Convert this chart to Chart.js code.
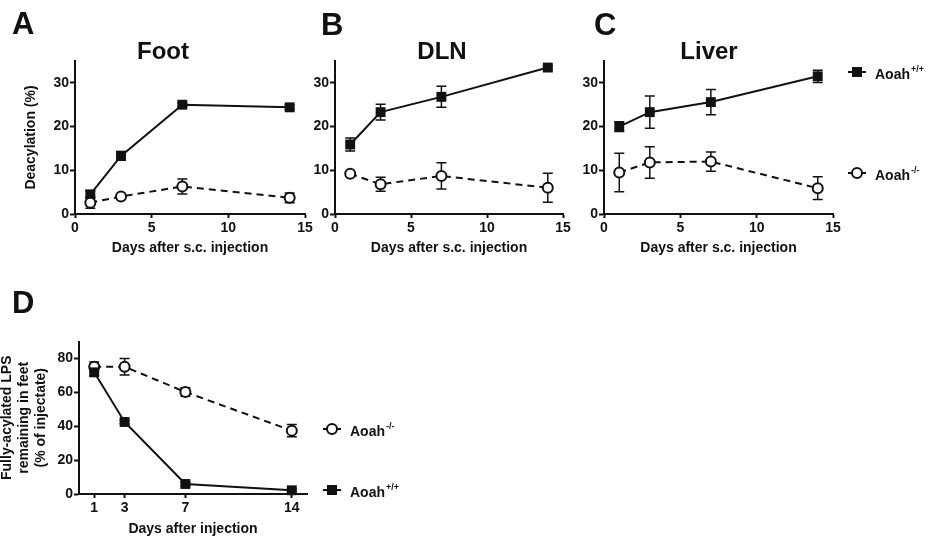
<!DOCTYPE html>
<html>
<head>
<meta charset="utf-8">
<script src="https://cdn.jsdelivr.net/npm/chart.js@4.4.1/dist/chart.umd.min.js"></script>
<style>
  body { margin: 0; background: #fff; }
  #wrap { position: relative; width: 928px; height: 542px; font-family: "Liberation Sans", Arial, sans-serif; color: #111; }
  #wrap canvas { position: absolute; left: 0; top: 0; }
  .lbl { position: absolute; font-weight: bold; line-height: 1; white-space: nowrap; }
  .letter { font-size: 31px; }
  .ttl { font-size: 24px; transform: translateX(-50%); }
</style>
</head>
<body>
<div id="wrap">
  <canvas id="chartA" width="928" height="542"></canvas>
  <canvas id="chartB" width="928" height="542"></canvas>
  <canvas id="chartC" width="928" height="542"></canvas>
  <canvas id="chartD" width="928" height="542"></canvas>
  <div class="lbl letter" style="left:12px;top:8px">A</div>
  <div class="lbl letter" style="left:321px;top:9px">B</div>
  <div class="lbl letter" style="left:594px;top:9px">C</div>
  <div class="lbl letter" style="left:12px;top:287px">D</div>
  <div class="lbl ttl" style="left:163px;top:39px">Foot</div>
  <div class="lbl ttl" style="left:442px;top:39px">DLN</div>
  <div class="lbl ttl" style="left:709px;top:39px">Liver</div>
</div>
<script>
const FONT = '"Liberation Sans", Arial, sans-serif';
const INK = '#111';

// days sampled
const days = [1, 3, 7, 14];
const genotypes = ['+/+', '-/-'];

// A: foot deacylation (%)
const footWt = [4.5, 13.3, 25.0, 24.4];
const footWtErr = [0.8, 1.0, 0.4, 0.5];
const footKo = [2.6, 4.0, 6.3, 3.7];
const footKoErr = [1.3, 0.4, 1.7, 1.1];

// B: DLN deacylation (%)
const dlnWt = [15.9, 23.3, 26.8, 33.5];
const dlnWtErr = [1.5, 1.8, 2.4, 0.4];
const dlnKo = [9.2, 6.8, 8.7, 6.0];
const dlnKoErr = [0.4, 1.6, 3.0, 3.3];

// C: liver deacylation (%)
const liverWt = [20.0, 23.3, 25.6, 31.5];
const liverWtErr = [1.1, 3.7, 2.9, 1.4];
const liverKo = [9.5, 11.8, 12.0, 5.9];
const liverKoErr = [4.4, 3.6, 2.2, 2.6];

// D: fully-acylated LPS remaining in feet (% of injectate)
const feetWt = [71.8, 42.5, 5.9, 2.2];
const feetWtErr = [2.0, 1.0, 1.0, 0.8];
const feetKo = [75.1, 75.1, 60.2, 37.4];
const feetKoErr = [2.8, 4.9, 2.5, 3.6];

// tick labels
const xTicksTop = [0, 5, 10, 15];
const yTicksTop = [0, 10, 20, 30];
const xTicksD = [1, 3, 7, 14];
const yTicksD = [0, 20, 40, 60, 80];

const errorBars = {
    id: 'errorBars',
    beforeDatasetsDraw(chart) {
        const { ctx, scales: { x, y } } = chart;
        ctx.save();
        ctx.strokeStyle = INK;
        ctx.lineWidth = 1.5;
        chart.data.datasets.forEach(ds => {
            if (!ds.err) return;
            ds.data.forEach((p, i) => {
                const e = ds.err[i];
                const px = x.getPixelForValue(p.x);
                const top = y.getPixelForValue(p.y + e);
                const bot = y.getPixelForValue(p.y - e);
                ctx.beginPath();
                ctx.moveTo(px, top); ctx.lineTo(px, bot);
                ctx.moveTo(px - 5, top); ctx.lineTo(px + 5, top);
                ctx.moveTo(px - 5, bot); ctx.lineTo(px + 5, bot);
                ctx.stroke();
            });
        });
        ctx.restore();
    }
};

// legend drawn beside the plot, one entry per dataset
const sideLegend = {
    id: 'sideLegend',
    afterDraw(chart, args, opts) {
        if (!opts.items) return;
        const ctx = chart.ctx;
        ctx.save();
        opts.items.forEach(it => {
            const ds = chart.data.datasets[it.ds];
            ctx.strokeStyle = INK;
            ctx.lineWidth = 2;
            ctx.beginPath();
            ctx.moveTo(it.x - 9, it.y); ctx.lineTo(it.x + 9, it.y);
            ctx.stroke();
            ctx.beginPath();
            if (ds.pointStyle === 'rect') {
                ctx.fillStyle = INK;
                ctx.fillRect(it.x - 5, it.y - 5, 10, 10);
            } else {
                ctx.fillStyle = '#fff';
                ctx.arc(it.x, it.y, 5, 0, Math.PI * 2);
                ctx.fill();
                ctx.stroke();
            }
            ctx.fillStyle = INK;
            ctx.textBaseline = 'alphabetic';
            ctx.textAlign = 'left';
            ctx.font = 'bold 14px ' + FONT;
            ctx.fillText('Aoah', it.x + 18, it.y + 7);
            const w = ctx.measureText('Aoah').width;
            ctx.font = 'bold 9px ' + FONT;
            ctx.fillText(ds.sup, it.x + 18 + w + 1, it.y + 0);
        });
        ctx.restore();
    }
};

function wtSet(vals, err) {
    return {
        label: 'Aoah' + genotypes[0], sup: genotypes[0],
        data: days.map((d, i) => ({ x: d, y: vals[i] })), err: err,
        borderColor: INK, borderWidth: 2, backgroundColor: INK,
        pointStyle: 'rect', pointRadius: 7, pointBorderWidth: 0,
        tension: 0, clip: false
    };
}

function koSet(vals, err) {
    return {
        label: 'Aoah' + genotypes[1], sup: genotypes[1],
        data: days.map((d, i) => ({ x: d, y: vals[i] })), err: err,
        borderColor: INK, borderWidth: 2, borderDash: [7, 5],
        pointStyle: 'circle', pointRadius: 5, pointBorderWidth: 2,
        pointBackgroundColor: '#fff', pointBorderColor: INK,
        tension: 0, clip: false
    };
}

function makePanel(id, p) {
    const tickFont = { family: FONT, size: 14, weight: 'bold' };
    const titleFont = { family: FONT, size: 14, weight: 'bold', lineHeight: 1.2 };
    return new Chart(document.getElementById(id), {
        type: 'line',
        data: { datasets: p.datasets },
        options: {
            responsive: false,
            animation: false,
            events: [],
            layout: {
                padding: {
                    left: p.area.left - p.yW,
                    right: 928 - p.area.right,
                    top: p.area.top,
                    bottom: 542 - p.area.bottom - p.xH
                }
            },
            scales: {
                x: {
                    type: 'linear', min: 0, max: 15,
                    afterBuildTicks: s => { s.ticks = p.xTicks.map(v => ({ value: v })); },
                    afterFit: s => { s.height = p.xH; },
                    grid: { drawOnChartArea: false, tickLength: 4, tickWidth: 2, tickColor: INK },
                    border: { display: true, width: 2, color: INK },
                    ticks: { color: INK, font: tickFont, padding: 2, maxRotation: 0, autoSkip: false },
                    title: { display: true, text: 'Days after ' + p.xWord + 'injection', color: INK, font: titleFont, padding: 0 }
                },
                y: {
                    min: 0, max: p.yMax,
                    afterBuildTicks: s => { s.ticks = p.yTicks.map(v => ({ value: v })); },
                    afterFit: s => { s.width = p.yW; },
                    grid: { drawOnChartArea: false, tickLength: 5, tickWidth: 2, tickColor: INK },
                    border: { display: true, width: 2, color: INK },
                    ticks: { color: INK, font: tickFont, padding: 1 },
                    title: { display: !!p.yTitle, text: p.yTitle, color: INK, font: titleFont, padding: 0 }
                }
            },
            plugins: {
                legend: { display: false },
                tooltip: { enabled: false },
                sideLegend: { items: p.legend || null }
            }
        },
        plugins: [errorBars, sideLegend]
    });
}

makePanel('chartA', {
    area: { left: 75, right: 305, top: 61, bottom: 214 }, yW: 52, xH: 43,
    xTicks: xTicksTop, yTicks: yTicksTop, yMax: 35, xWord: 's.c. ',
    yTitle: 'Deacylation (%)',
    datasets: [koSet(footKo, footKoErr), wtSet(footWt, footWtErr)]
});

makePanel('chartB', {
    area: { left: 335, right: 563, top: 61, bottom: 214 }, yW: 30, xH: 43,
    xTicks: xTicksTop, yTicks: yTicksTop, yMax: 35, xWord: 's.c. ',
    datasets: [koSet(dlnKo, dlnKoErr), wtSet(dlnWt, dlnWtErr)]
});

makePanel('chartC', {
    area: { left: 604, right: 833, top: 61, bottom: 214 }, yW: 30, xH: 43,
    xTicks: xTicksTop, yTicks: yTicksTop, yMax: 35, xWord: 's.c. ',
    datasets: [koSet(liverKo, liverKoErr), wtSet(liverWt, liverWtErr)],
    legend: [{ ds: 1, x: 857, y: 72 }, { ds: 0, x: 857, y: 173 }]
});

makePanel('chartD', {
    area: { left: 79, right: 307, top: 341.5, bottom: 494 }, yW: 80, xH: 44,
    xTicks: xTicksD, yTicks: yTicksD, yMax: 90, xWord: '',
    yTitle: ['Fully-acylated LPS', 'remaining in feet', '(% of injectate)'],
    datasets: [wtSet(feetWt, feetWtErr), koSet(feetKo, feetKoErr)],
    legend: [{ ds: 1, x: 332, y: 429 }, { ds: 0, x: 332, y: 490 }]
});
</script>
</body>
</html>
